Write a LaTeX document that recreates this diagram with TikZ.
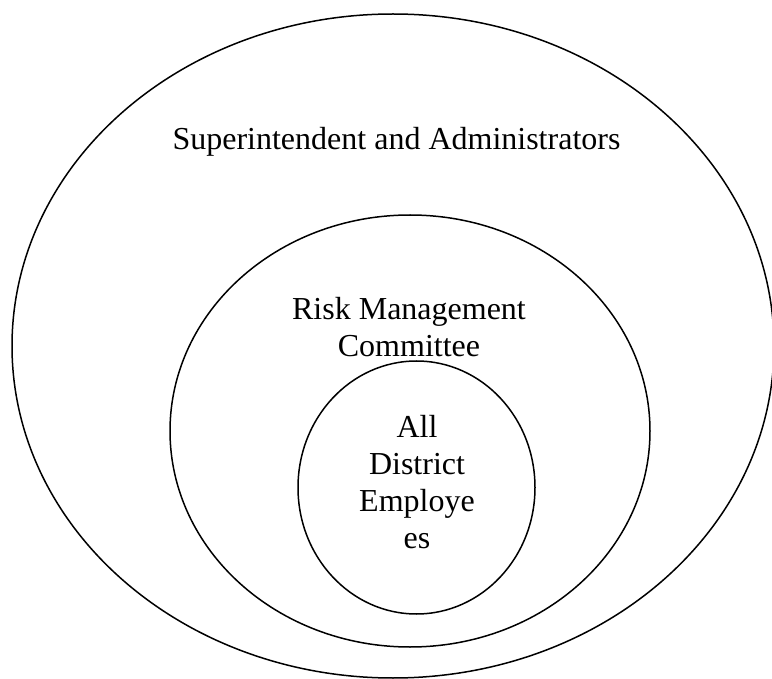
\documentclass[tikz,border=0pt]{standalone}
\usepackage{fontspec}
\setmainfont{Liberation Serif}
\usepackage{tikz}

\begin{document}
\begin{tikzpicture}[x=1pt,y=-1pt,line width=1.5pt,
  lbl/.style={anchor=base,align=center,inner sep=0pt,
    font=\fontsize{32}{37}\selectfont}]
  \useasboundingbox
    (0,0)
    rectangle
    (772,679);
  \draw
    (393,346)
    ellipse
    [x radius=381, y radius=332];
  \draw
    (410,431)
    ellipse
    [x radius=240, y radius=216];
  \draw
    (416.5,487.5)
    ellipse
    [x radius=118.5, y radius=126.5];
  \node [lbl] (sup) at (396.5,150)
    {Superintendent and Administrators};
  \node [lbl] (risk) at (409,356)
    {Risk Management\\Committee};
  \node [lbl] (emp) at (417,548)
    {All\\District\\Employe\\es};
\end{tikzpicture}
\end{document}
